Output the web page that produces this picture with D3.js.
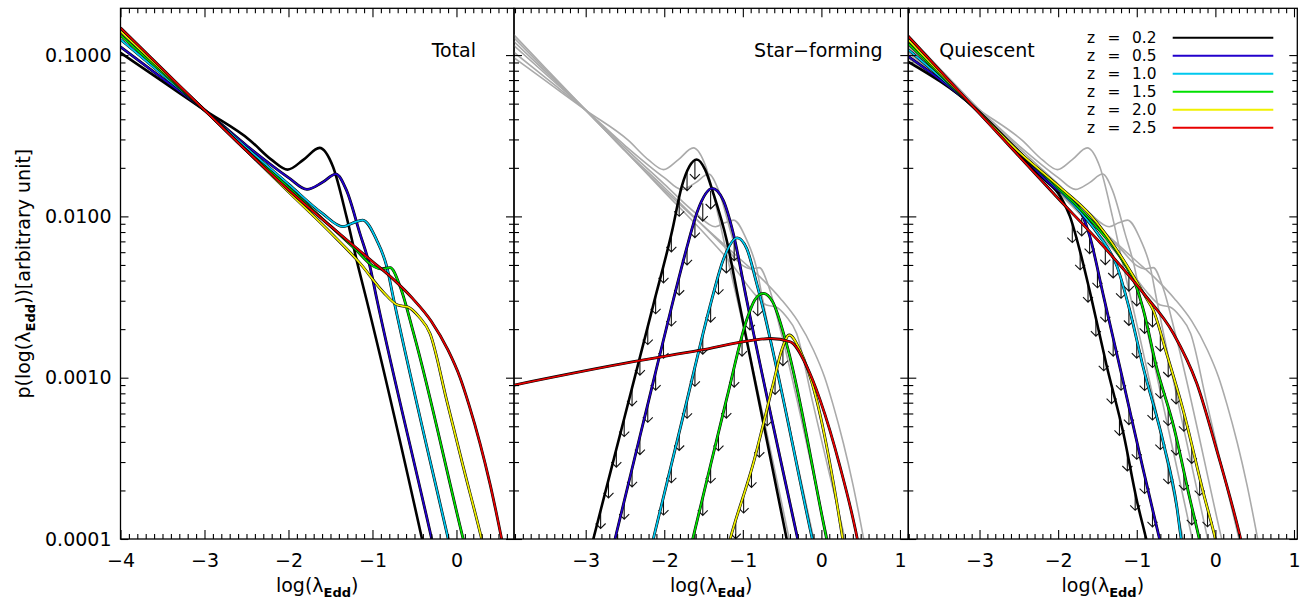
<!DOCTYPE html>
<html>
<head>
<meta charset="utf-8">
<script src="https://cdn.jsdelivr.net/npm/d3@7"></script>
<style>
  body { margin: 0; background: #fff; }
  svg { display: block; }
  text { font-family: "DejaVu Sans", sans-serif; fill: #000; }
</style>
</head>
<body>
<svg id="chart" width="1309" height="601"></svg>
<script>
// Redshift bins and their line colours
const redshifts = ["0.2", "0.5", "1.0", "1.5", "2.0", "2.5"];
const colors = ["#000000", "#2200cc", "#00c8ee", "#00e000", "#f0f000", "#e80000"];

// Total Eddington-ratio distributions, [log(lambda_Edd), p]
const totalZ02 = [[-4.0,0.1033],[-3.5,0.0687],[-3.0,0.0456],[-2.46,0.0297],[-2.2,0.0224],[-2.01,0.0195],[-1.82,0.0225],[-1.63,0.0266],[-1.47,0.0203],[-1.31,0.0100],[-1.17,0.00488],[-1.07,0.00303],[-0.41,0.0001],[-0.3,0.000055]];
const totalZ05 = [[-4.0,0.1125],[-3.5,0.0716],[-3.0,0.0456],[-2.5,0.0275],[-2.0,0.0174],[-1.78,0.0147],[-1.6,0.0162],[-1.435,0.0183],[-1.31,0.01455],[-1.15,0.00785],[-1.03,0.00488],[-0.95,0.0031],[-0.295,0.0001],[-0.2,0.00006]];
const totalZ10 = [[-4.0,0.125],[-3.5,0.0755],[-3.0,0.0456],[-2.5,0.0266],[-2.0,0.01585],[-1.6,0.01047],[-1.35,0.00863],[-1.23,0.00912],[-1.117,0.00948],[-0.95,0.00713],[-0.83,0.00488],[-0.75,0.0031],[-0.098,0.0001],[0.0,0.00006]];
const totalZ15 = [[-4.0,0.133],[-3.5,0.0779],[-3.0,0.0456],[-2.5,0.0257],[-2.0,0.0151],[-1.5,0.0087],[-1.2,0.00624],[-1.0,0.00495],[-0.9,0.00473],[-0.79,0.00481],[-0.67,0.00366],[-0.51,0.00188],[0.08,0.0001],[0.2,0.000056]];
const totalZ20 = [[-4.0,0.141],[-3.5,0.0801],[-3.0,0.0456],[-2.5,0.0255],[-2.0,0.0142],[-1.5,0.00794],[-1.15,0.00513],[-0.87,0.00339],[-0.7,0.00282],[-0.577,0.00274],[-0.45,0.0024],[-0.315,0.00188],[-0.117,0.000726],[0.081,0.00028],[0.30,0.0001],[0.4,0.00006]];
const totalZ25 = [[-4.0,0.1476],[-3.5,0.082],[-3.0,0.0456],[-2.0,0.0146],[-1.5,0.0087],[-1.0,0.00525],[-0.75,0.00407],[-0.52,0.00309],[-0.3,0.00224],[-0.1,0.00148],[0.04,0.00101],[0.15,0.000676],[0.28,0.000392],[0.4,0.000219],[0.538,0.0001],[0.65,0.00005]];

// Star-forming component
const sfZ02 = [[-3.0,0.000065],[-2.903,0.0001],[-2.5,0.000583],[-2.14,0.00282],[-1.9,0.00813],[-1.778,0.01528],[-1.68,0.0204],[-1.587,0.02254],[-1.48,0.0195],[-1.376,0.0139],[-1.206,0.00713],[-1.07,0.00333],[-0.442,0.0001],[-0.35,0.00006]];
const sfZ05 = [[-2.75,0.000056],[-2.627,0.0001],[-2.2,0.000716],[-1.885,0.00303],[-1.7,0.00676],[-1.58,0.0107],[-1.389,0.0149],[-1.25,0.0126],[-1.122,0.00785],[-0.951,0.00303],[-0.302,0.0001],[-0.2,0.000059]];
const sfZ10 = [[-2.25,0.00006],[-2.14,0.0001],[-1.75,0.000603],[-1.397,0.00303],[-1.25,0.00537],[-1.071,0.00736],[-0.95,0.00631],[-0.824,0.00385],[-0.116,0.0001],[0.0,0.000055]];
const sfZ15 = [[-1.75,0.00006],[-1.638,0.0001],[-1.2,0.00076],[-0.95,0.00229],[-0.85,0.00302],[-0.74,0.00333],[-0.62,0.00295],[-0.45,0.00166],[0.067,0.0001],[0.18,0.000055]];
const sfZ20 = [[-1.25,0.000068],[-1.161,0.0001],[-0.867,0.000294],[-0.612,0.000923],[-0.506,0.00148],[-0.409,0.00184],[-0.273,0.00148],[-0.06,0.000726],[0.154,0.000221],[0.271,0.0001],[0.35,0.000056]];
const sfZ25 = [[-3.913,0.0009],[-2.394,0.001256],[-1.545,0.00148],[-0.867,0.00171],[-0.652,0.00175],[-0.397,0.00167],[-0.185,0.00117],[-0.016,0.000726],[0.237,0.000281],[0.457,0.0001],[0.55,0.000056]];

// Quiescent component
const qZ02 = [[-3.91,0.091],[-3.08,0.0479],[-2.5,0.0245],[-2.2,0.0174],[-1.97,0.01324],[-1.85,0.0100],[-1.72,0.00603],[-1.59,0.00331],[-1.38,0.00117],[-1.17,0.000452],[-1.0,0.000174],[-0.88,0.0001],[-0.8,0.000068]];
const qZ05 = [[-3.91,0.0986],[-3.08,0.0479],[-2.5,0.0251],[-2.0,0.01445],[-1.8,0.0126],[-1.6,0.00759],[-1.42,0.00316],[-1.17,0.000933],[-0.92,0.000272],[-0.71,0.0001],[-0.62,0.000065]];
const qZ10 = [[-3.91,0.1084],[-3.08,0.0479],[-2.5,0.0251],[-2.0,0.0148],[-1.75,0.0111],[-1.5,0.00785],[-1.25,0.00488],[-1.09,0.00262],[-0.92,0.00117],[-0.66,0.000392],[-0.49,0.000158],[-0.435,0.0001],[-0.35,0.00006]];
const qZ15 = [[-3.91,0.1183],[-3.08,0.0479],[-2.5,0.0251],[-2.0,0.0151],[-1.5,0.0085],[-1.2,0.0055],[-1.0,0.0036],[-0.915,0.00262],[-0.75,0.00117],[-0.53,0.000497],[-0.32,0.000174],[-0.205,0.0001],[-0.1,0.000056]];
const qZ20 = [[-3.91,0.125],[-3.08,0.0479],[-2.5,0.0251],[-2.0,0.0155],[-1.59,0.0102],[-1.17,0.00537],[-0.89,0.00318],[-0.79,0.00262],[-0.62,0.00141],[-0.41,0.00063],[-0.15,0.000191],[0.0,0.0001],[0.1,0.00006]];
const qZ25 = [[-3.91,0.1312],[-3.08,0.0479],[-2.02,0.01324],[-1.42,0.00649],[-0.915,0.00334],[-0.534,0.00188],[-0.237,0.000923],[0.017,0.000356],[0.322,0.0001],[0.4,0.000068]];

// Positions (log lambda_Edd) of the upper-limit arrows on each component
const sfArrowsZ02 = [-2.81,-2.71,-2.61,-2.51,-2.41,-2.31,-2.21,-2.11,-2.01,-1.91,-1.81,-1.71,-1.61];
const sfArrowsZ05 = [-2.51,-2.41,-2.31,-2.21,-2.11,-2.01,-1.91,-1.81,-1.71,-1.61,-1.51,-1.41];
const sfArrowsZ10 = [-2.01,-1.91,-1.81,-1.71,-1.61,-1.51,-1.41,-1.31,-1.21,-1.11];
const sfArrowsZ15 = [-1.61,-1.51,-1.41,-1.31,-1.21,-1.11,-1.01,-0.91,-0.81];
const sfArrowsZ20 = [-1.09,-0.99,-0.89,-0.79,-0.69,-0.59,-0.49];
const qArrowsZ02 = [-1.82,-1.72,-1.62,-1.52,-1.42,-1.32,-1.22,-1.12,-1.02];
const qArrowsZ05 = [-1.7,-1.6,-1.5,-1.4,-1.3,-1.2,-1.1,-1.0,-0.9,-0.8];
const qArrowsZ10 = [-1.4,-1.3,-1.2,-1.1,-1.0,-0.9,-0.8,-0.7,-0.6];
const qArrowsZ15 = [-1.1,-1.0,-0.9,-0.8,-0.7,-0.6,-0.5,-0.4,-0.3];
const qArrowsZ20 = [-0.8,-0.7,-0.6,-0.5,-0.4,-0.3,-0.2,-0.1];

const yTickValues = [1e-4, 1e-3, 1e-2, 1e-1];
const yTickLabels = ["0.0001", "0.0010", "0.0100", "0.1000"];

const totals = [totalZ02, totalZ05, totalZ10, totalZ15, totalZ20, totalZ25];
const sfCurves = [sfZ02, sfZ05, sfZ10, sfZ15, sfZ20, sfZ25];
const qCurves = [qZ02, qZ05, qZ10, qZ15, qZ20, qZ25];
const sfArrows = [sfArrowsZ02, sfArrowsZ05, sfArrowsZ10, sfArrowsZ15, sfArrowsZ20, []];
const qArrows = [qArrowsZ02, qArrowsZ05, qArrowsZ10, qArrowsZ15, qArrowsZ20, []];

// ---- layout ----
const svg = d3.select("#chart");
const yTop = 8.3, yBottom = 539;
const y = d3.scaleLog().domain([1e-4, 0.195]).range([yBottom, yTop]);

const panels = [
  { left: 120.5, right: 514,   domain: [-4, 0.685],     title: "Total",        titleX: 476,   anchor: "end",
    grey: [], main: totals, arrows: [] },
  { left: 514,   right: 908.3, domain: [-3.9125, 1.106], title: "Star\u2212forming", titleX: 882.7, anchor: "end",
    grey: totals, main: sfCurves, arrows: sfArrows },
  { left: 908.3, right: 1297.3, domain: [-3.906, 1.042], title: "Quiescent",    titleX: 939.3, anchor: "start",
    grey: totals, main: qCurves, arrows: qArrows }
];

const fmtX = d => (d < 0 ? "\u2212" + Math.abs(d) : String(d));

// value of a curve at x, interpolated linearly in log space
function valueAt(curve, xv) {
  for (let i = 0; i < curve.length - 1; i++) {
    const a = curve[i], b = curve[i + 1];
    if (xv >= a[0] && xv <= b[0]) {
      const t = (xv - a[0]) / (b[0] - a[0]);
      return Math.pow(10, Math.log10(a[1]) + t * (Math.log10(b[1]) - Math.log10(a[1])));
    }
  }
  return null;
}

const yMinor = [];
[-4, -3, -2, -1].forEach(e => { for (let k = 2; k <= 9; k++) { const v = k * Math.pow(10, e); if (v <= 0.195) yMinor.push(v); } });

panels.forEach((p, pi) => {
  const x = d3.scaleLinear().domain(p.domain).range([p.left, p.right]);
  const g = svg.append("g");
  const clipId = "clip" + pi;
  svg.append("clipPath").attr("id", clipId).append("rect")
    .attr("x", p.left).attr("y", yTop).attr("width", p.right - p.left).attr("height", yBottom - yTop);

  const line = d3.line().x(d => x(d[0])).y(d => y(d[1])).curve(d3.curveMonotoneX);
  const plot = g.append("g").attr("clip-path", `url(#${clipId})`);

  // grey totals behind the component curves
  p.grey.forEach(c => {
    plot.append("path").attr("d", line(c)).attr("fill", "none")
      .attr("stroke", "#aaaaaa").attr("stroke-width", 1.6);
  });

  // upper-limit arrows
  p.arrows.forEach((list, ci) => {
    list.forEach(xv => {
      const v = valueAt(p.main[ci], xv);
      if (v == null) return;
      const px = x(xv), py = y(v), L = 18, h = 5;
      plot.append("path")
        .attr("d", `M${px},${py}L${px},${py + L}M${px - h},${py + L - h}L${px},${py + L}L${px + h},${py + L - h}`)
        .attr("fill", "none").attr("stroke", "#111").attr("stroke-width", 1.1);
    });
  });

  // component / total curves
  p.main.forEach((c, ci) => {
    if (ci === 0) {
      plot.append("path").attr("d", line(c)).attr("fill", "none")
        .attr("stroke", "#000").attr("stroke-width", 2.6);
    } else {
      plot.append("path").attr("d", line(c)).attr("fill", "none")
        .attr("stroke", "#000").attr("stroke-width", 2.8);
      plot.append("path").attr("d", line(c)).attr("fill", "none")
        .attr("stroke", colors[ci]).attr("stroke-width", 1.7);
    }
  });

  // frame
  g.append("rect").attr("x", p.left).attr("y", yTop)
    .attr("width", p.right - p.left).attr("height", yBottom - yTop)
    .attr("fill", "none").attr("stroke", "#000").attr("stroke-width", 1.3);

  // x axes
  const majors = d3.range(Math.ceil(p.domain[0]), Math.floor(p.domain[1]) + 1);
  const minors = d3.range(-40, 12).map(i => i / 10)
    .filter(v => v >= p.domain[0] && v <= p.domain[1] && Math.abs(v - Math.round(v)) > 1e-6);

  const bottom = g.append("g").attr("transform", `translate(0,${yBottom})`)
    .call(d3.axisBottom(x).tickValues(majors).tickSize(-9).tickPadding(15).tickFormat(fmtX));
  g.append("g").attr("transform", `translate(0,${yBottom})`)
    .call(d3.axisBottom(x).tickValues(minors).tickSize(-5).tickFormat(""));
  g.append("g").attr("transform", `translate(0,${yTop})`)
    .call(d3.axisTop(x).tickValues(majors).tickSize(-9).tickFormat(""));
  g.append("g").attr("transform", `translate(0,${yTop})`)
    .call(d3.axisTop(x).tickValues(minors).tickSize(-5).tickFormat(""));
  bottom.selectAll("text").attr("font-size", 19).attr("font-family", "DejaVu Sans");

  // y axes (labels only on the first panel)
  const left = g.append("g").attr("transform", `translate(${p.left},0)`)
    .call(d3.axisLeft(y).tickValues(yTickValues).tickSize(-8).tickPadding(9)
      .tickFormat((d, i) => pi === 0 ? yTickLabels[i] : ""));
  g.append("g").attr("transform", `translate(${p.left},0)`)
    .call(d3.axisLeft(y).tickValues(yMinor).tickSize(-5).tickFormat(""));
  g.append("g").attr("transform", `translate(${p.right},0)`)
    .call(d3.axisRight(y).tickValues(yTickValues).tickSize(-8).tickFormat(""));
  g.append("g").attr("transform", `translate(${p.right},0)`)
    .call(d3.axisRight(y).tickValues(yMinor).tickSize(-5).tickFormat(""));
  left.selectAll("text").attr("font-size", 19).attr("font-family", "DejaVu Sans");

  g.selectAll(".domain").remove();
  g.selectAll(".tick line").attr("stroke", "#000").attr("stroke-width", 1.1);

  // panel title
  g.append("text").attr("x", p.titleX).attr("y", 57).attr("text-anchor", p.anchor)
    .attr("font-size", 19).text(p.title);

  // x-axis title
  const xt = g.append("text").attr("x", (p.left + p.right) / 2).attr("y", 592)
    .attr("text-anchor", "middle").attr("font-size", 19);
  xt.append("tspan").text("log(\u03bb");
  xt.append("tspan").attr("font-size", 13).attr("font-weight", "bold").attr("dy", 5).text("Edd");
  xt.append("tspan").attr("dy", -5).text(")");
});

// y-axis title
const yt = svg.append("text").attr("transform", `translate(30,${(yTop + yBottom) / 2}) rotate(-90)`)
  .attr("text-anchor", "middle").attr("font-size", 19);
yt.append("tspan").text("p(log(\u03bb");
yt.append("tspan").attr("font-size", 13).attr("font-weight", "bold").attr("dy", 5).text("Edd");
yt.append("tspan").attr("dy", -5).text("))[arbitrary unit]");

// legend
const legendRows = [37.7, 55.7, 73.7, 91.7, 109.7, 127.7];
const legend = svg.append("g");
redshifts.forEach((z, i) => {
  const ly = legendRows[i];
  legend.append("text").attr("x", 1091).attr("y", ly + 5.6).attr("text-anchor", "middle").attr("font-size", 15.4).text("z");
  legend.append("text").attr("x", 1114).attr("y", ly + 5.6).attr("text-anchor", "middle").attr("font-size", 15.4).text("=");
  legend.append("text").attr("x", 1132).attr("y", ly + 5.6).attr("font-size", 15.4).text(z);
  legend.append("line").attr("x1", 1172.7).attr("x2", 1273.3).attr("y1", ly).attr("y2", ly)
    .attr("stroke", colors[i]).attr("stroke-width", 2);
});
</script>
</body>
</html>
